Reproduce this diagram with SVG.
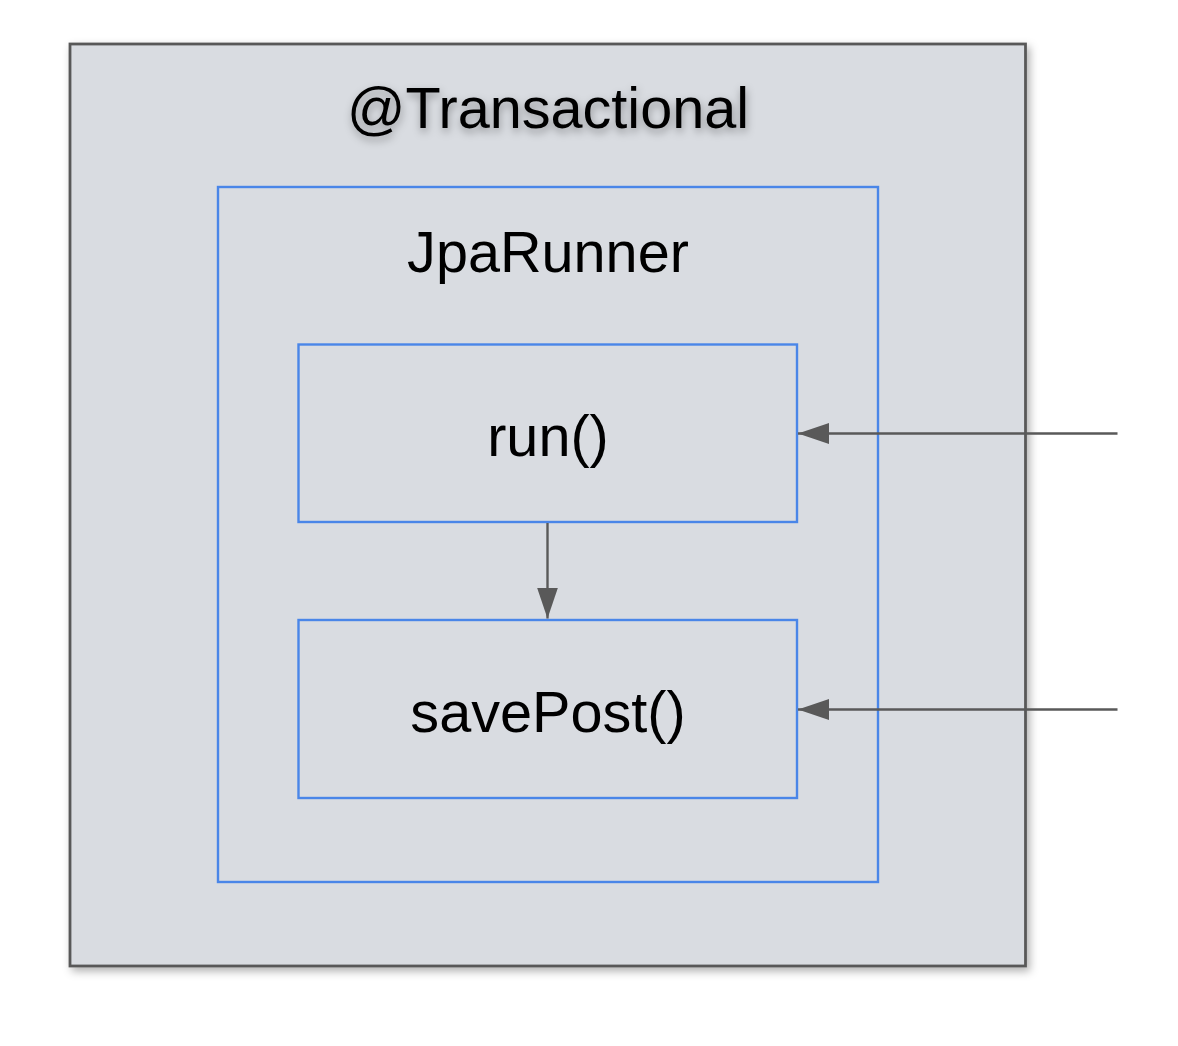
<svg xmlns="http://www.w3.org/2000/svg" width="1178" height="1046" viewBox="0 0 1178 1046">
  <style>
    .lbl { font-family: "Liberation Sans", Arial, sans-serif; font-size: 57.6px; fill: #000000; text-anchor: middle; }
    .inner { fill: none; stroke: #4a86e8; stroke-width: 2.4; }
    .conn { stroke: #595959; stroke-width: 2.4; fill: none; marker-end: url(#arr); }
  </style>
  <defs>
    <marker id="arr" markerUnits="userSpaceOnUse" markerWidth="32" markerHeight="24" viewBox="0 0 32 24" refX="31" refY="12" orient="auto">
      <path d="M0,1.5 L31,12 L0,22.5 Z" fill="#595959"/>
    </marker>
    <filter id="boxShadow" x="-5%" y="-5%" width="112%" height="112%">
      <feDropShadow dx="3" dy="4" stdDeviation="4" flood-color="#000000" flood-opacity="0.3"/>
    </filter>
    <filter id="textShadow" x="-10%" y="-30%" width="120%" height="180%">
      <feDropShadow dx="1" dy="4" stdDeviation="4" flood-color="#000000" flood-opacity="0.35"/>
    </filter>
  </defs>

  <rect width="1178" height="1046" fill="#ffffff"/>

  <g id="transactional">
    <rect x="70" y="44" width="955.5" height="922" fill="#d9dce1" stroke="#595959" stroke-width="2.8" filter="url(#boxShadow)"/>
    <text class="lbl" x="548" y="128" filter="url(#textShadow)">@Transactional</text>
  </g>

  <g id="jparunner">
    <rect class="inner" x="218" y="187" width="660" height="695"/>
    <text class="lbl" x="548" y="272">JpaRunner</text>
  </g>

  <g id="run">
    <rect class="inner" x="298.5" y="344.5" width="498.5" height="177.5"/>
    <text class="lbl" x="548" y="456">run()</text>
  </g>

  <g id="savePost">
    <rect class="inner" x="298.5" y="620" width="498.5" height="178"/>
    <text class="lbl" x="548" y="732">savePost()</text>
  </g>

  <g id="connectors">
    <line class="conn" x1="1117.5" y1="433.5" x2="798" y2="433.5"/>
    <line class="conn" x1="547.5" y1="523" x2="547.5" y2="618.5"/>
    <line class="conn" x1="1117.5" y1="709.5" x2="798" y2="709.5"/>
  </g>
</svg>
